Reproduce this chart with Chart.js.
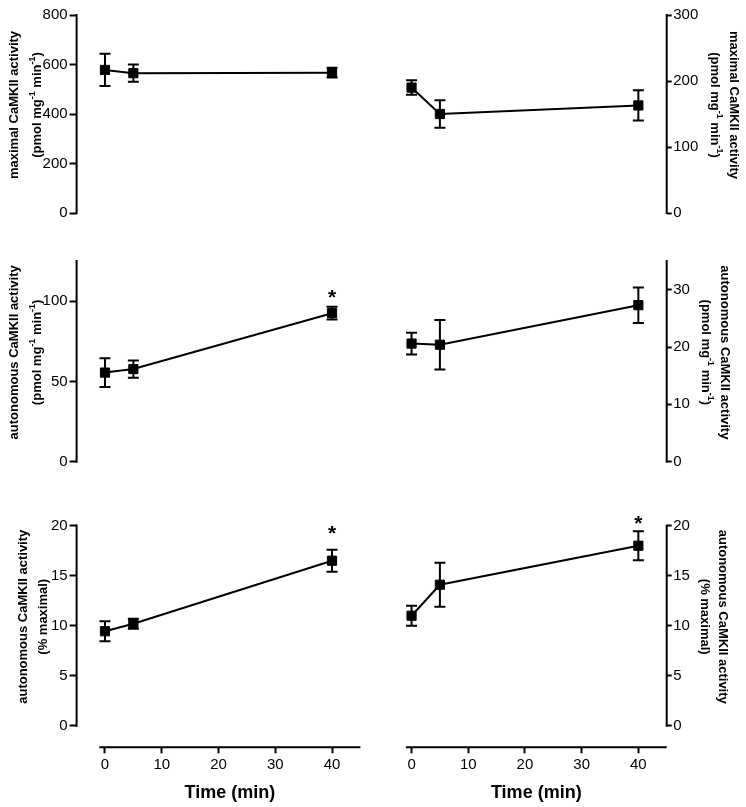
<!DOCTYPE html>
<html>
<head>
<meta charset="utf-8">
<script src="https://cdn.jsdelivr.net/npm/chart.js@4/dist/chart.umd.min.js"></script>
<style>
  body { margin: 0; background: #fff; }
  #wrap { position: relative; width: 746px; height: 807px; overflow: hidden; }
  #wrap canvas { position: absolute; left: 0; top: 0; }
</style>
</head>
<body>
<div id="wrap">
  <canvas id="c1" width="746" height="807"></canvas>
  <canvas id="c2" width="746" height="807"></canvas>
  <canvas id="c3" width="746" height="807"></canvas>
  <canvas id="c4" width="746" height="807"></canvas>
  <canvas id="c5" width="746" height="807"></canvas>
  <canvas id="c6" width="746" height="807"></canvas>
</div>
<script>
Chart.defaults.font.family = '"Liberation Sans", Arial, sans-serif';
Chart.defaults.color = '#000';

// time points (min)
var times = [0, 5, 40];
var timeTicks = [0, 10, 20, 30, 40];

// maximal CaMKII activity (pmol/mg/min)
var maxLeft = [578, 565, 567];
var maxLeftErr = [65, 35, 20];
var maxRight = [190, 150, 163];
var maxRightErr = [11, 21, 23];

// autonomous CaMKII activity (pmol/mg/min)
var autoLeft = [55.5, 57.7, 92.5];
var autoLeftErr = [9, 5.4, 4];
var autoRight = [20.6, 20.4, 27.3];
var autoRightErr = [1.9, 4.3, 3.1];

// autonomous CaMKII activity (% maximal)
var pctLeft = [9.45, 10.2, 16.5];
var pctLeftErr = [1.0, 0.5, 1.1];
var pctRight = [11.0, 14.1, 18.0];
var pctRightErr = [1.0, 2.2, 1.45];

// y tick labels and top of each y axis
var maxLeftTicks = [0, 200, 400, 600, 800];
var maxRightTicks = [0, 100, 200, 300];
var autoLeftTicks = [0, 50, 100];
var autoRightTicks = [0, 10, 20, 30];
var pctTicks = [0, 5, 10, 15, 20];
var maxLeftTop = 800, maxRightTop = 300, autoLeftTop = 125, autoRightTop = 35, pctTop = 20;

// significance stars (value where the * sits, null = none)
var autoLeftStar = [null, null, 106];
var pctLeftStar = [null, null, 19.8];
var pctRightStar = [null, null, 20.8];
var noStar = [null, null, null];

// axis titles, '^' marks a superscript piece
var maxTitle = [['maximal CaMKII activity'], ['(pmol mg', '^-1', ' min', '^-1', ')']];
var autoTitle = [['autonomous CaMKII activity'], ['(pmol mg', '^-1', ' min', '^-1', ')']];
var pctTitle = [['autonomous CaMKII activity'], ['(% maximal)']];
var xTitle = 'Time (min)';

// x range shown, and the extent of the drawn x axis line
var xMin = -5, xMax = 45;
var xLine = [-1, 45];

var W = 746, H = 807;
var AXW = 60; // room kept for y tick labels
var cols = { left: { l: 76.6, r: 360.4 }, right: { l: 383.2, r: 666.7 } };
var rows = [
  { top: 15, bottom: 213, min: 0, xAxis: false },
  { top: 261, bottom: 461.7, min: 0, xAxis: false },
  { top: 525.7, bottom: 747.3, min: -2.15, xAxis: true }
];

var prism = {
  id: 'prism',
  beforeDatasetsDraw: function(chart) {
    var p = chart.options.plugins.prism;
    var xs = chart.scales.x, ys = chart.scales.y, a = chart.chartArea, ctx = chart.ctx;
    ctx.save();
    ctx.strokeStyle = '#000';
    ctx.lineWidth = 2;
    // y axis line from 0 to top
    var ax = p.side === 'left' ? a.left : a.right;
    ctx.beginPath();
    ctx.moveTo(ax, ys.getPixelForValue(p.yTop) - 1);
    ctx.lineTo(ax, ys.getPixelForValue(0) + 1);
    ctx.stroke();
    if (p.xAxis) {
      ctx.beginPath();
      ctx.moveTo(xs.getPixelForValue(xLine[0]), a.bottom);
      ctx.lineTo(xs.getPixelForValue(xLine[1]), a.bottom);
      ctx.stroke();
    }
    // error bars
    chart.data.datasets.forEach(function(ds) {
      ds.data.forEach(function(pt, i) {
        var px = xs.getPixelForValue(pt.x), e = ds.errors[i];
        var t = ys.getPixelForValue(pt.y + e), b = ys.getPixelForValue(pt.y - e);
        ctx.beginPath();
        ctx.moveTo(px, t); ctx.lineTo(px, b);
        ctx.moveTo(px - 5.5, t); ctx.lineTo(px + 5.5, t);
        ctx.moveTo(px - 5.5, b); ctx.lineTo(px + 5.5, b);
        ctx.stroke();
      });
    });
    ctx.restore();
  },
  afterDraw: function(chart) {
    var p = chart.options.plugins.prism;
    var xs = chart.scales.x, ys = chart.scales.y, a = chart.chartArea, ctx = chart.ctx;
    ctx.save();
    ctx.fillStyle = '#000';

    // stars
    ctx.font = 'bold 21px "Liberation Sans", Arial, sans-serif';
    ctx.textAlign = 'center';
    ctx.textBaseline = 'alphabetic';
    p.stars.forEach(function(v, i) {
      if (v === null) return;
      ctx.fillText('*', xs.getPixelForValue(times[i]), ys.getPixelForValue(v) + 12);
    });

    // y title
    var midY = (ys.getPixelForValue(0) + ys.getPixelForValue(p.yTop)) / 2 - 9;
    p.title.forEach(function(segs, i) {
      var x = p.side === 'left' ? a.left - p.titleOff[i] : a.right + p.titleOff[i];
      ctx.save();
      ctx.translate(x, midY);
      ctx.rotate(p.side === 'left' ? -Math.PI / 2 : Math.PI / 2);
      ctx.textAlign = 'left';
      var total = 0;
      segs.forEach(function(s) {
        var sup = s.charAt(0) === '^';
        ctx.font = 'bold ' + (sup ? 9 : 13) + 'px "Liberation Sans", Arial, sans-serif';
        total += ctx.measureText(sup ? s.slice(1) : s).width;
      });
      var cx = -total / 2;
      segs.forEach(function(s) {
        var sup = s.charAt(0) === '^';
        var txt = sup ? s.slice(1) : s;
        ctx.font = 'bold ' + (sup ? 9 : 13) + 'px "Liberation Sans", Arial, sans-serif';
        ctx.fillText(txt, cx, sup ? -1.5 : 4.5);
        cx += ctx.measureText(txt).width;
      });
      ctx.restore();
    });

    // x title
    if (p.xAxis) {
      ctx.font = 'bold 18px "Liberation Sans", Arial, sans-serif';
      ctx.textAlign = 'center';
      ctx.textBaseline = 'middle';
      ctx.fillText(xTitle, xs.getPixelForValue((xLine[0] + xLine[1]) / 2), xs.bottom - 14);
    }
    ctx.restore();
  }
};

function makePanel(id, side, row, values, errors, ticks, yTop, title, titleOff, stars) {
  var col = cols[side];
  var r = rows[row];
  var pts = times.map(function(t, i) { return { x: t, y: values[i] }; });
  return new Chart(document.getElementById(id), {
    type: 'line',
    data: {
      datasets: [{
        data: pts,
        errors: errors,
        borderColor: '#000',
        borderWidth: 2,
        backgroundColor: '#000',
        pointStyle: 'rect',
        pointRadius: 6.5,
        pointBorderWidth: 1,
        pointBackgroundColor: '#000',
        pointBorderColor: '#000',
        tension: 0,
        clip: false
      }]
    },
    options: {
      responsive: false,
      devicePixelRatio: 1,
      animation: false,
      events: [],
      layout: {
        padding: {
          left: side === 'left' ? col.l - AXW : col.l,
          right: side === 'right' ? W - col.r - AXW : W - col.r,
          top: r.top,
          bottom: r.xAxis ? 0 : H - r.bottom
        }
      },
      scales: {
        x: {
          type: 'linear',
          min: xMin,
          max: xMax,
          display: r.xAxis,
          afterBuildTicks: function(s) { s.ticks = timeTicks.map(function(v) { return { value: v }; }); },
          afterFit: function(s) { if (r.xAxis) s.height = H - r.bottom; },
          border: { display: false },
          grid: { drawOnChartArea: false, drawTicks: true, tickLength: 6, tickWidth: 2, tickColor: '#000' },
          ticks: { padding: 3, font: { size: 15 }, color: '#000', maxRotation: 0 }
        },
        y: {
          type: 'linear',
          position: side,
          min: r.min,
          max: yTop,
          afterBuildTicks: function(s) { s.ticks = ticks.map(function(v) { return { value: v }; }); },
          afterFit: function(s) { s.width = AXW; },
          border: { display: false },
          grid: { drawOnChartArea: false, drawTicks: true, tickLength: side === 'left' ? 7 : 5, tickWidth: 2, tickColor: '#000' },
          ticks: { padding: side === 'left' ? 2 : 1.5, font: { size: 15 }, color: '#000' }
        }
      },
      plugins: {
        legend: { display: false },
        tooltip: { enabled: false },
        prism: { side: side, yTop: yTop, xAxis: r.xAxis, title: title, titleOff: titleOff, stars: stars }
      }
    },
    plugins: [prism]
  });
}

makePanel('c1', 'left', 0, maxLeft, maxLeftErr, maxLeftTicks, maxLeftTop, maxTitle, [63, 40], noStar);
makePanel('c2', 'right', 0, maxRight, maxRightErr, maxRightTicks, maxRightTop, maxTitle, [68, 49], noStar);
makePanel('c3', 'left', 1, autoLeft, autoLeftErr, autoLeftTicks, autoLeftTop, autoTitle, [63, 40], autoLeftStar);
makePanel('c4', 'right', 1, autoRight, autoRightErr, autoRightTicks, autoRightTop, autoTitle, [59, 40], noStar);
makePanel('c5', 'left', 2, pctLeft, pctLeftErr, pctTicks, pctTop, pctTitle, [54, 34], pctLeftStar);
makePanel('c6', 'right', 2, pctRight, pctRightErr, pctTicks, pctTop, pctTitle, [57, 39], pctRightStar);
</script>
</body>
</html>
